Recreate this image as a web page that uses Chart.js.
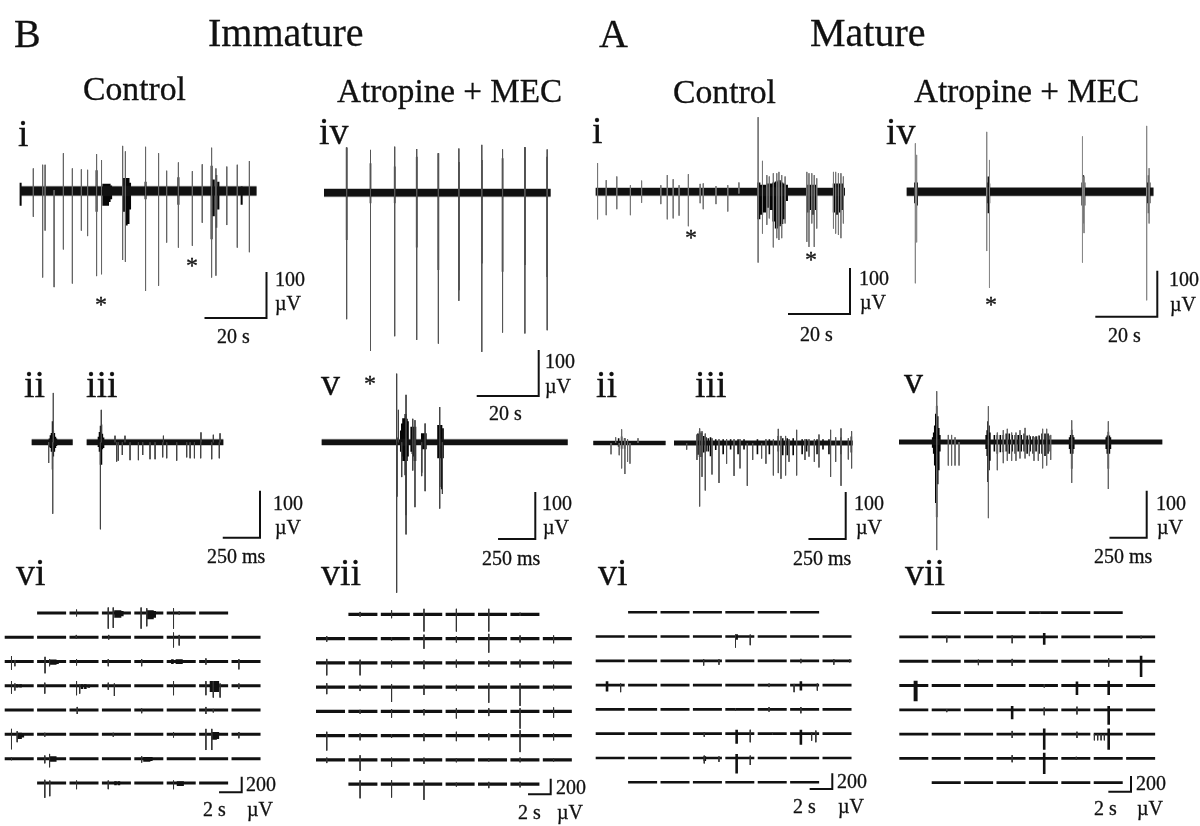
<!DOCTYPE html>
<html>
<head>
<meta charset="utf-8">
<title>Immature and mature recordings</title>
<script src="https://cdn.jsdelivr.net/npm/chart.js@4/dist/chart.umd.min.js"></script>
<style>
  html, body { margin: 0; padding: 0; background: #fff; }
  #page { position: relative; width: 1200px; height: 826px; overflow: hidden; }
  #figure { position: absolute; left: 0; top: 0; }
  .lbl { position: absolute; font-family: "Liberation Serif", serif; color: #111; line-height: 1; white-space: nowrap; -webkit-text-stroke: 0.3px #111; }
</style>
</head>
<body>
<div id="page"><canvas id="figure" width="1200" height="826"></canvas></div>
<script>
/*-----------------------------
Traces
each spike is [time, up, down], time in s or ms, amplitude in uV
------------------------------*/
const biSpan = [0, 76.3];
const biSpikes = [[4.3,49,56],[7.3,57,188],[8.1,57,86],[11,2,209],[14,82,127],[16.9,49,201],[19.8,47,86],[21.8,46,98],[24.7,80,185],[26.3,67,181],[33.1,98,150],[34,86,154],[40.5,96,217],[44.7,82,206],[47.3,44,112],[51.1,62,123],[55.6,43,119],[58.8,58,69],[61.8,94,188],[63.2,49,184],[66.7,53,74],[70.1,57,123],[74,65,133]];
const biDark = [[0.2,18,32],[24.7,45,45],[26.9,16,32],[27.4,16,32],[27.9,16,32],[28.4,16,32],[28.9,16,24],[29.4,12,18],[33.3,28,45],[33.9,28,45],[34.4,28,75],[35,28,72],[35.5,18,40],[40.5,20,18],[51.1,30,30],[61.8,55,105],[62.5,25,55],[63.3,35,80],[64,20,40],[71.5,10,30]];

const bivSpan = [0, 73.1];
const bivSpikes = [[7.3,98,275],[15,93,344],[22.8,100,312],[29.9,95,320],[36.9,86,328],[43.5,96,235],[50.9,104,346],[57.6,94,304],[64.8,99,306],[72,94,299]];
const bivDark = [[7.3,98,103],[15,64,23],[22.8,57,23],[29.9,78,119],[36.9,86,168],[43.5,67,212],[50.9,71,154],[57.6,75,172],[64.8,99,157],[72,78,183]];

const aiSpan = [0, 80.4];
const aiSpikes = [[0.6,62,60],[3.4,25,51],[6.8,33,38],[11.2,14,51],[14.8,24,24],[21,14,27],[23.1,36,60],[25,27,58],[26.9,14,52],[29.9,38,75],[33.7,17,25],[34.7,18,38],[38.8,12,27],[42.6,14,43],[46.2,20,4],[52.4,162,154],[53.8,67,91],[55.2,36,72],[56,33,58],[57.3,40,121],[58.4,40,101],[59.1,43,105],[60,36,101],[61.1,33,69],[68.1,43,109],[68.8,40,120],[69.7,40,69],[70.5,36,120],[71.3,29,80],[76.7,43,80],[77.4,43,91],[78.3,40,94],[79.1,40,101],[79.9,33,69]];
const aiDark = [[52.6,20,60],[53.5,15,50],[54.5,15,45],[55.5,18,35],[56.5,18,40],[57.5,20,65],[58.3,22,80],[59.2,25,75],[60,20,70],[60.8,18,60],[61.5,15,20],[68.5,15,45],[69.3,15,40],[70,15,50],[70.8,15,40],[77,18,45],[77.8,18,50],[78.6,18,45],[79.4,18,40]];

const aivSpan = [0, 79.6];
const aivSpikes = [[2.8,105,199],[3.2,80,110],[25.8,130,129],[26.7,69,209],[56.7,120,154],[57.2,33,90],[77.4,143,236],[78.2,51,69]];
const aivDark = [[2.6,20,25],[3,40,69],[3.4,20,30],[25.9,20,25],[26.3,33,47],[26.7,18,25],[56.6,20,30],[57,36,69],[57.4,20,30],[77.6,20,25],[78,36,47],[78.4,20,25]];

const biiSpan = [0, 275];
const biiSpikes = [[114,0,44],[141,0,152],[145,105,0]];
const biiDark = [[118,8,10],[125,15,12],[132,20,20],[139,45,58],[146,25,30],[153,20,20],[160,12,12],[167,8,8]];

const biiiSpan = [0, 917];
const biiiSpikes = [[92,0,185],[98,69,0],[190,14,0],[201,0,41],[212,0,39],[239,0,27],[257,14,0],[291,0,38],[347,0,38],[376,0,27],[425,0,36],[459,0,36],[510,0,32],[515,14,0],[537,0,34],[604,0,39],[671,0,32],[694,0,34],[723,0,34],[765,0,34],[767,21,0],[839,0,36],[850,16,0],[890,0,34],[895,19,0]];
const biiiDark = [[78,12,10],[85,22,20],[92,35,48],[100,38,48],[106,18,15],[114,10,12]];

const bvSpan = [0, 1651];
const bvSpikes = [[503,146,320],[515,69,0],[537,0,74],[566,101,196],[611,50,60],[626,47,138],[671,0,72],[694,40,104],[792,75,141],[810,0,110]];
const bvDark = [[505,10,116],[530,25,20],[537,40,30],[545,51,40],[552,51,40],[560,60,70],[566,60,155],[573,50,40],[580,45,30],[600,33,20],[608,33,25],[615,33,30],[622,33,40],[630,33,40],[671,19,65],[678,19,15],[685,19,15],[692,19,15],[700,19,15],[780,37,34],[787,37,34],[792,37,95],[798,37,34],[805,37,100],[815,30,34]];

const aiiSpan = [0, 485];
const aiiSpikes = [[119,0,24],[150,12,0],[174,0,26],[190,29,54],[212,10,66],[230,8,40],[246,0,44],[300,10,0]];
const aiiDark = [[170,10,8],[190,14,12],[210,10,12]];

const aiiiSpan = [0, 1199];
const aiiiSpikes = [[85,0,14],[154,18,36],[172,31,135],[188,25,72],[210,20,101],[255,10,67],[302,8,85],[353,8,44],[403,8,70],[443,8,54],[492,0,91],[528,0,36],[588,0,33],[617,8,44],[667,8,69],[700,30,64],[718,15,76],[749,15,69],[772,8,40],[823,28,69],[879,8,36],[906,8,29],[942,8,40],[973,18,52],[1051,28,72],[1085,12,40],[1121,31,91],[1170,10,35],[1192,25,54]];
const aiiiDark = [[160,20,25],[172,25,30],[185,22,30],[200,15,20],[215,12,18],[230,10,18],[245,12,28],[280,8,15],[330,8,24],[380,8,14],[430,8,24],[470,8,14],[560,8,24],[640,8,24],[700,15,18],[730,10,26],[760,10,26],[800,10,26],[860,8,24],[890,8,18],[960,8,24],[1000,8,14],[1040,8,24],[1120,12,24],[1190,14,20]];

const avSpan = [0, 1767];
const avSpikes = [[253,108,230],[331,15,50],[353,15,50],[376,10,50],[403,0,50],[600,76,162],[660,20,60],[700,25,45],[727,28,40],[756,20,40],[785,20,40],[812,25,35],[846,30,35],[875,15,30],[906,10,40],[935,12,40],[964,28,56],[991,28,50],[1018,15,38],[1159,46,87],[1405,44,100]];
const avDark = [[226,10,12],[233,20,25],[240,35,50],[247,60,130],[253,77,160],[260,55,90],[267,30,60],[274,15,20],[585,15,15],[592,25,30],[597,44,85],[604,35,60],[610,20,40],[640,15,20],[660,15,25],[680,15,22],[700,15,22],[720,18,20],[740,18,25],[760,15,20],[780,15,25],[800,15,20],[820,15,20],[840,18,20],[860,14,25],[880,12,20],[900,12,25],[920,12,20],[940,14,25],[960,18,25],[980,18,30],[1000,18,25],[1015,14,20],[1145,10,15],[1152,15,25],[1159,26,57],[1166,15,25],[1173,10,15],[1391,10,15],[1398,14,25],[1405,22,57],[1412,14,25],[1419,10,15]];

/*-----------------------------
Electrode grids, each event is [row, column, time in s, up, down]
------------------------------*/
const gridBCtrl = [
  [0,2,.62,43,43],[0,3,.56,70,200],[0,3,1,70,190],[0,4,.6,70,200],[0,4,1.1,60,170],[0,5,.6,60,200],[0,5,1.1,20,20],
  [1,2,.6,30,20],[1,3,.6,30,30],[1,5,.6,60,130],[1,5,1.1,30,105],[2,0,.6,70,105],[2,0,.9,20,60],[2,1,.7,60,150],[2,1,1.1,30,60],
  [2,2,.62,30,50],[2,3,.56,30,60],[2,4,.65,30,60],[2,6,.6,40,40],[2,7,.65,30,100],
  [3,0,.6,60,100],[3,0,.9,30,60],[3,1,.68,40,100],[3,2,.62,60,120],[3,2,.9,20,100],[3,3,.56,40,50],[3,3,1.1,30,130],
  [3,5,.6,60,120],[3,6,.6,60,120],[3,6,1.25,60,150],[3,6,1.85,30,150],[3,7,.65,30,40],
  [4,2,.68,40,50],[4,4,.65,20,40],[4,6,.6,40,50],[4,6,1.25,15,30],
  [5,0,.6,70,190],[5,0,1.1,40,100],[5,1,.68,20,30],[5,3,1,20,30],[5,5,.6,30,40],[5,6,.6,70,200],[5,6,1.12,70,200],[5,7,.65,30,50],
  [6,0,.6,20,20],[6,1,.68,40,60],[6,1,1.1,60,110],[6,4,.65,30,50],
  [7,1,.68,40,190],[7,1,1.12,30,170],[7,2,.62,30,80],[7,3,.56,30,80],[7,5,.6,30,80]
];
const gridBCtrlDark = [
  [0,3,1.2,35,60],[0,3,1.4,35,60],[0,3,1.6,35,60],[0,3,1.8,25,40],[0,4,1.2,35,80],[0,4,1.4,35,80],[0,4,1.6,35,80],[0,4,1.8,25,60],
  [2,1,1.2,25,40],[2,1,1.4,25,40],[2,1,1.6,25,40],[2,1,1.8,20,30],[2,5,.5,30,30],[2,5,.9,30,30],[2,5,1.1,30,30],[2,5,1.3,30,30],[2,5,1.5,20,20],
  [3,0,1.1,20,20],[3,0,1.4,20,20],[3,2,1.1,20,40],[3,2,1.4,20,40],[3,2,1.7,15,25],
  [3,6,1.05,60,80],[3,6,1.25,60,80],[3,6,1.45,60,80],[3,6,1.65,60,80],[5,0,1.2,20,60],[5,0,1.4,20,60],[5,0,1.6,15,40],
  [5,6,1.25,30,70],[5,6,1.45,30,70],[5,6,1.65,30,60],[6,1,1.2,30,40],[6,1,1.4,30,40],[6,1,1.6,30,40],
  [6,4,.9,20,40],[6,4,1.1,20,40],[6,4,1.3,20,40],[6,4,1.5,20,30],[7,3,1.2,20,30],[7,3,1.5,20,30],[7,5,1,20,40],[7,5,1.2,20,40],[7,5,1.4,20,40]
];
const gridBDrug = [
  [0,1,1.03,30,30],[0,2,.95,50,50],[0,3,.95,70,220],[0,4,.95,70,220],[0,5,.95,70,220],[0,6,.85,20,20],
  [1,0,.95,30,40],[1,2,.95,20,30],[1,3,.95,50,130],[1,4,.95,30,50],[1,5,.95,60,180],[1,6,.85,40,50],[1,7,.95,40,60],
  [2,0,.95,50,160],[2,1,1.03,40,160],[2,2,.95,30,60],[2,3,.95,30,80],[2,4,.95,40,60],[2,5,.95,30,50],[2,6,.85,40,60],[2,7,.95,30,70],
  [3,0,.95,50,90],[3,1,1.03,30,50],[3,2,.95,40,190],[3,3,.95,30,100],[3,4,.95,30,50],[3,5,.95,50,200],[3,6,.85,50,240],[3,7,.95,30,40],
  [4,1,1.03,20,30],[4,2,.95,30,80],[4,3,.95,30,50],[4,4,.95,40,90],[4,5,.95,40,60],[4,6,.85,40,220],[4,7,.95,50,80],
  [5,0,.95,50,190],[5,1,1.03,30,60],[5,2,.95,20,30],[5,3,.95,30,70],[5,4,.95,50,70],[5,5,.95,30,60],[5,6,.85,70,210],[5,7,.95,30,60],
  [6,0,.95,30,40],[6,1,1.03,60,140],[6,2,.95,30,90],[6,3,.95,30,50],[6,4,.95,20,30],[6,5,.95,20,20],[6,6,.85,30,30],[6,7,.95,20,20],
  [7,1,1.03,50,180],[7,2,.95,50,170],[7,3,.95,50,200],[7,4,.95,20,30],[7,5,.95,30,50],[7,6,.85,30,40]
];
const gridBDrugDark = [];
const gridACtrl = [
  [1,4,.9,25,140],[1,4,2.2,25,110],[2,3,.95,20,60],[2,3,2.3,20,50],[2,6,.95,25,30],[2,7,1,20,50],[2,7,2.4,20,20],
  [3,0,2.2,20,90],[3,5,1,20,25],[3,6,.35,15,90],[3,6,2.4,20,70],[4,4,.9,15,15],[4,5,1,30,30],[4,6,.95,30,50],
  [5,3,1,20,40],[5,4,2.2,50,110],[5,5,1.3,10,10],[5,6,1.9,20,90],[5,6,2.27,40,110],[6,3,2.3,20,50],[6,4,2.2,30,90],[6,3,1,30,70]
];
const gridACtrlDark = [[1,4,1,30,40],[3,0,1,50,80],[3,6,.95,50,70],[5,4,1,50,130],[5,6,.95,50,140],[6,4,1,50,200],[6,3,1.05,20,40]];
const gridADrug = [
  [0,4,1,10,15],[1,1,1.33,15,70],[1,3,1.38,20,80],[1,7,1.32,15,20],[2,2,1.26,20,50],[2,3,1.38,30,60],[2,6,1.32,40,70],
  [3,4,1.35,15,25],[4,1,1.33,10,30],[4,4,1.35,30,70],[4,5,1.38,40,60],[5,3,1.38,40,50],[5,5,1.38,30,50],
  [5,6,.06,0,80],[5,6,.35,0,80],[5,6,.65,0,80],[5,6,.94,0,80],[6,3,1.38,40,50],[6,5,1.32,20,20]
];
const gridADrugDark = [[1,4,1.35,50,100],[2,7,1.32,70,200],[3,0,1.38,60,200],[3,0,1.5,60,200],[3,5,1.38,50,120],[3,6,1.32,60,120],[4,3,1.38,50,120],[4,6,1.32,50,190],[5,4,1.35,70,200],[5,6,1.32,70,200],[6,4,1.35,70,200]];

/*-----------------------------
Texts: [text, left, baseline, font size]
------------------------------*/
const labels = [
  ['B',14,47,40],['Immature',208,46,40],['A',599,47,40],['Mature',810,46,40],
  ['Control',83,100,33.7],['Atropine + MEC',337,102,33.2],['Control',673,103,33.7],['Atropine + MEC',914,102,33.2],
  ['i',18,146,38],['iv',319,144,38],['i',592,143,38],['iv',886,144,38],
  ['ii',24,397,38],['iii',86,397,38],['v',321,395,38],['ii',596,397,38],['iii',695,397,38],['v',904,393,38],
  ['vi',16,585,38],['vii',321,585,38],['vi',598,585,38],['vii',905,585,38],
  ['100',275,286,20],['\u00b5V',275,310,20],['20 s',217,343,20],
  ['100',545,368,20],['\u00b5V',545,393,20],['20 s',489,420,20],
  ['100',859,285,20],['\u00b5V',860,309,20],['20 s',800,341,20],
  ['100',1169,286,20],['\u00b5V',1170,311,20],['20 s',1108,342,20],
  ['100',273,510,20],['\u00b5V',275,534,20],['250 ms',207,563,20],
  ['100',542,510,20],['\u00b5V',543,534,20],['250 ms',482,565,20],
  ['100',854,510,20],['\u00b5V',856,534,20],['250 ms',793,565,20],
  ['100',1156,510,20],['\u00b5V',1157,534,20],['250 ms',1094,563,20],
  ['200',246,791,20],['2 s',203,816,20],['\u00b5V',247,816,20],
  ['200',556,794,20],['2 s',518,819,20],['\u00b5V',557,819,20],
  ['200',837,788,20],['2 s',793,813,20],['\u00b5V',838,813,20],
  ['200',1136,790,20],['2 s',1094,815,20],['\u00b5V',1137,815,20],
  ['*',95,312,24],['*',186,273,24],['*',364,391,24],['*',685,245,24],['*',805,267,24],['*',985,312,24]
];

//----------------------------------------
//Panel layout in page pixels
//----------------------------------------
const W = 1200, H = 826;
const topX = 3.1, topY = 0.46, midX = 0.149, midY = 0.47, gridX = 11.33, gridY = 0.0783;

const panels = [
  {id:'bi', x0:20, base:191, kx:topX, ky:topY, span:biSpan, spikes:biSpikes, dark:biDark, band:9, grey:'#666', darkW:2, bar:[266.5,318,20,100]},
  {id:'biv', x0:324, base:192.7, kx:topX, ky:topY, span:bivSpan, spikes:bivSpikes, dark:bivDark, band:7.5, grey:'#555', darkW:1.6, bar:[538.7,396,20,100]},
  {id:'ai', x0:595.7, base:191.7, kx:topX, ky:topY, span:aiSpan, spikes:aiSpikes, dark:aiDark, band:7.5, grey:'#777', darkW:3.2, bar:[850,314,20,100]},
  {id:'aiv', x0:906.7, base:191.7, kx:topX, ky:topY, span:aivSpan, spikes:aivSpikes, dark:aivDark, band:8, grey:'#888', darkW:1.5, bar:[1157.3,316.7,20,100]},
  {id:'bii', x0:31.7, base:442.3, kx:midX, ky:midY, span:biiSpan, spikes:biiSpikes, dark:biiDark, band:5.5, grey:'#555', darkW:1.3},
  {id:'biii', x0:86.7, base:442.3, kx:midX, ky:midY, span:biiiSpan, spikes:biiiSpikes, dark:biiiDark, band:5.5, grey:'#444', darkW:1.3, bar:[260,537.7,250,100]},
  {id:'bv', x0:321.7, base:442.3, kx:midX, ky:midY, span:bvSpan, spikes:bvSpikes, dark:bvDark, band:5.5, grey:'#444', darkW:1.4, bar:[535.3,539,250,100]},
  {id:'aii', x0:593.3, base:443, kx:midX, ky:midY, span:aiiSpan, spikes:aiiSpikes, dark:aiiDark, band:4, grey:'#666', darkW:1.6},
  {id:'aiii', x0:674, base:443, kx:midX, ky:midY, span:aiiiSpan, spikes:aiiiSpikes, dark:aiiiDark, band:4.5, grey:'#555', darkW:1.6, bar:[845.7,539,250,100]},
  {id:'av', x0:899, base:442, kx:midX, ky:midY, span:avSpan, spikes:avSpikes, dark:avDark, band:4.5, grey:'#666', darkW:1.6, bar:[1146.7,537.7,250,100]}
];

const grids = [
  {id:'gbc', x0:4.7, base:613, spikes:gridBCtrl, dark:gridBCtrlDark, band:3, bar:[241.7,792.3,2,200]},
  {id:'gbd', x0:316, base:614.3, spikes:gridBDrug, dark:gridBDrugDark, band:3.2, bar:[550.7,794.3,2,200]},
  {id:'gac', x0:595.7, base:612.3, spikes:gridACtrl, dark:gridACtrlDark, band:2.6, bar:[832.3,789,2,200]},
  {id:'gad', x0:899.3, base:612.7, spikes:gridADrug, dark:gridADrugDark, band:2.8, bar:[1131,791.7,2,200]}
];
const colStep = 2.86;   // s between electrodes on the x scale
const colLen = 2.56;    // s drawn for one electrode
const rowStep = 310;    // uV between rows on the y scale

//----------------------------------------
//Turning the arrays into chart datasets
//----------------------------------------
const scales = {};

function addScales(id, x0, base, kx, ky) {
  scales['x' + id] = {type: 'linear', display: false, min: -x0 / kx, max: (W - x0) / kx};
  scales['y' + id] = {type: 'linear', display: false, min: -(H - base) / ky, max: base / ky};
}

function line(id, data, width, color) {
  return {
    xAxisID: 'x' + id, yAxisID: 'y' + id, data: data,
    showLine: true, pointRadius: 0, borderWidth: width, borderColor: color,
    borderCapStyle: 'butt', borderJoinStyle: 'miter', spanGaps: false
  };
}

function spikePoints(list) {
  const pts = [];
  list.forEach(s => {
    pts.push({x: s[0], y: s[1]}, {x: s[0], y: -s[2]}, {x: s[0], y: NaN});
  });
  return pts;
}

function gridPoints(list) {
  const pts = [];
  list.forEach(e => {
    const x = e[1] * colStep + e[2], y = -e[0] * rowStep;
    pts.push({x: x, y: y + e[3]}, {x: x, y: y - e[4]}, {x: x, y: NaN});
  });
  return pts;
}

function scaleBar(id, bar, x0, base, kx, ky) {
  const right = (bar[0] - x0) / kx, bottom = (base - bar[1]) / ky;
  return line(id, [
    {x: right - bar[2], y: bottom}, {x: right, y: bottom}, {x: right, y: bottom + bar[3]}
  ], 2, '#111');
}

const datasets = [];

panels.forEach(p => {
  addScales(p.id, p.x0, p.base, p.kx, p.ky);
  const sweep = [{x: p.span[0], y: 0}, {x: p.span[1], y: 0}];
  datasets.push(line(p.id, spikePoints(p.spikes), 1, p.grey));
  // soft edge of the noise first, solid core on top
  datasets.push(line(p.id, sweep, p.band + 1.5, 'rgba(40,40,40,0.35)'));
  datasets.push(line(p.id, sweep, p.band, '#050505'));
  datasets.push(line(p.id, spikePoints(p.dark), p.darkW, '#050505'));
  if (p.bar) datasets.push(scaleBar(p.id, p.bar, p.x0, p.base, p.kx, p.ky));
});

grids.forEach(g => {
  addScales(g.id, g.x0, g.base, gridX, gridY);
  const cells = [];
  for (let r = 0; r < 8; r++) {
    for (let c = 0; c < 8; c++) {
      if ((r === 0 || r === 7) && (c === 0 || c === 7)) continue;
      cells.push({x: c * colStep, y: -r * rowStep}, {x: c * colStep + colLen, y: -r * rowStep}, {x: c * colStep, y: NaN});
    }
  }
  datasets.push(line(g.id, gridPoints(g.spikes), 1, '#333'));
  datasets.push(line(g.id, cells, g.band, '#111'));
  datasets.push(line(g.id, gridPoints(g.dark), 2.6, '#111'));
  datasets.push(scaleBar(g.id, g.bar, g.x0, g.base, gridX, gridY));
});

new Chart(document.getElementById('figure'), {
  type: 'scatter',
  data: {datasets: datasets},
  options: {
    responsive: false,
    animation: false,
    layout: {padding: 0},
    scales: scales,
    plugins: {legend: {display: false}, tooltip: {enabled: false}}
  }
});

//----------------------------------------
//Texts
//----------------------------------------
const page = document.getElementById('page');
labels.forEach(l => {
  const el = document.createElement('div');
  el.className = 'lbl';
  el.textContent = l[0];
  el.style.left = l[1] + 'px';
  el.style.top = (l[2] - 0.8375 * l[3]) + 'px';
  el.style.fontSize = l[3] + 'px';
  page.appendChild(el);
});
</script>
</body>
</html>
